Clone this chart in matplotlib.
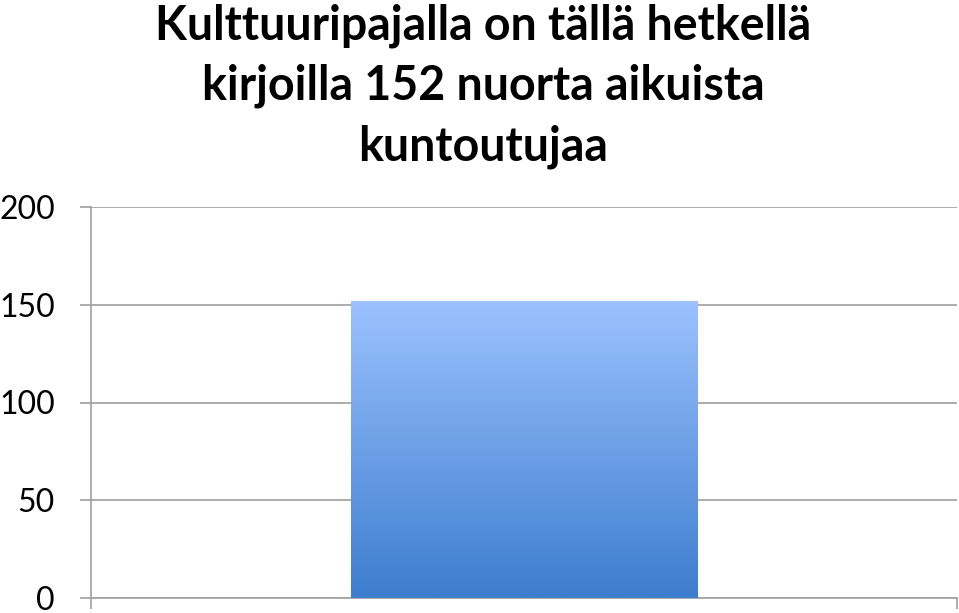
import matplotlib
matplotlib.use("Agg")
import matplotlib.pyplot as plt
import numpy as np
from matplotlib.colors import LinearSegmentedColormap

title = "Kulttuuripajalla on tällä hetkellä\nkirjoilla 152 nuorta aikuista\nkuntoutujaa"
categories = [""]
values = [152]
yticks = [0, 50, 100, 150, 200]

plt.rcParams['font.family'] = ['Lato', 'DejaVu Sans']

fig = plt.figure(figsize=(9.59, 6.13), dpi=100)
ax = fig.add_axes([91/959, 1 - 598/613, (957 - 91)/959, (598 - 207)/613])

x = np.arange(len(categories))
bars = ax.bar(x, values, width=0.4, color='none', edgecolor='none', zorder=3)

cmap = LinearSegmentedColormap.from_list('g', ['#3D7DCE', '#9CC2FF'])
grad = np.linspace(0, 1, 256).reshape(-1, 1)
for b in bars:
    x0, y0 = b.get_x(), b.get_y()
    w, h = b.get_width(), b.get_height()
    im = ax.imshow(grad, cmap=cmap, origin='lower', aspect='auto',
                   extent=[x0, x0 + w, y0, y0 + h], zorder=3)
    im.set_clip_path(b)

ax.set_xlim(-0.5, 0.5)
ax.set_ylim(0, 200)
ax.set_yticks(yticks)
ax.set_yticklabels([str(t) for t in yticks], fontsize=23)
ax.set_xticks([-0.5, 0.5])
ax.set_xticklabels(["", ""])
ax.tick_params(axis='y', length=8, color='#A0A0A0', width=1.2, pad=18)
ax.tick_params(axis='x', length=8, color='#A0A0A0', width=1.2)
ax.yaxis.grid(True, color='#A6A6A6', linewidth=1.3, zorder=1)
ax.set_axisbelow(True)
for s in ['top', 'right']:
    ax.spines[s].set_visible(False)
for s in ['left', 'bottom']:
    ax.spines[s].set_color('#A0A0A0')
    ax.spines[s].set_linewidth(1.2)

fig.text(483/959, 1 - 3/613, title, ha='center', va='top', fontsize=33.5,
         fontweight='bold', linespacing=1.45)

fig.savefig('out.png', dpi=100)
